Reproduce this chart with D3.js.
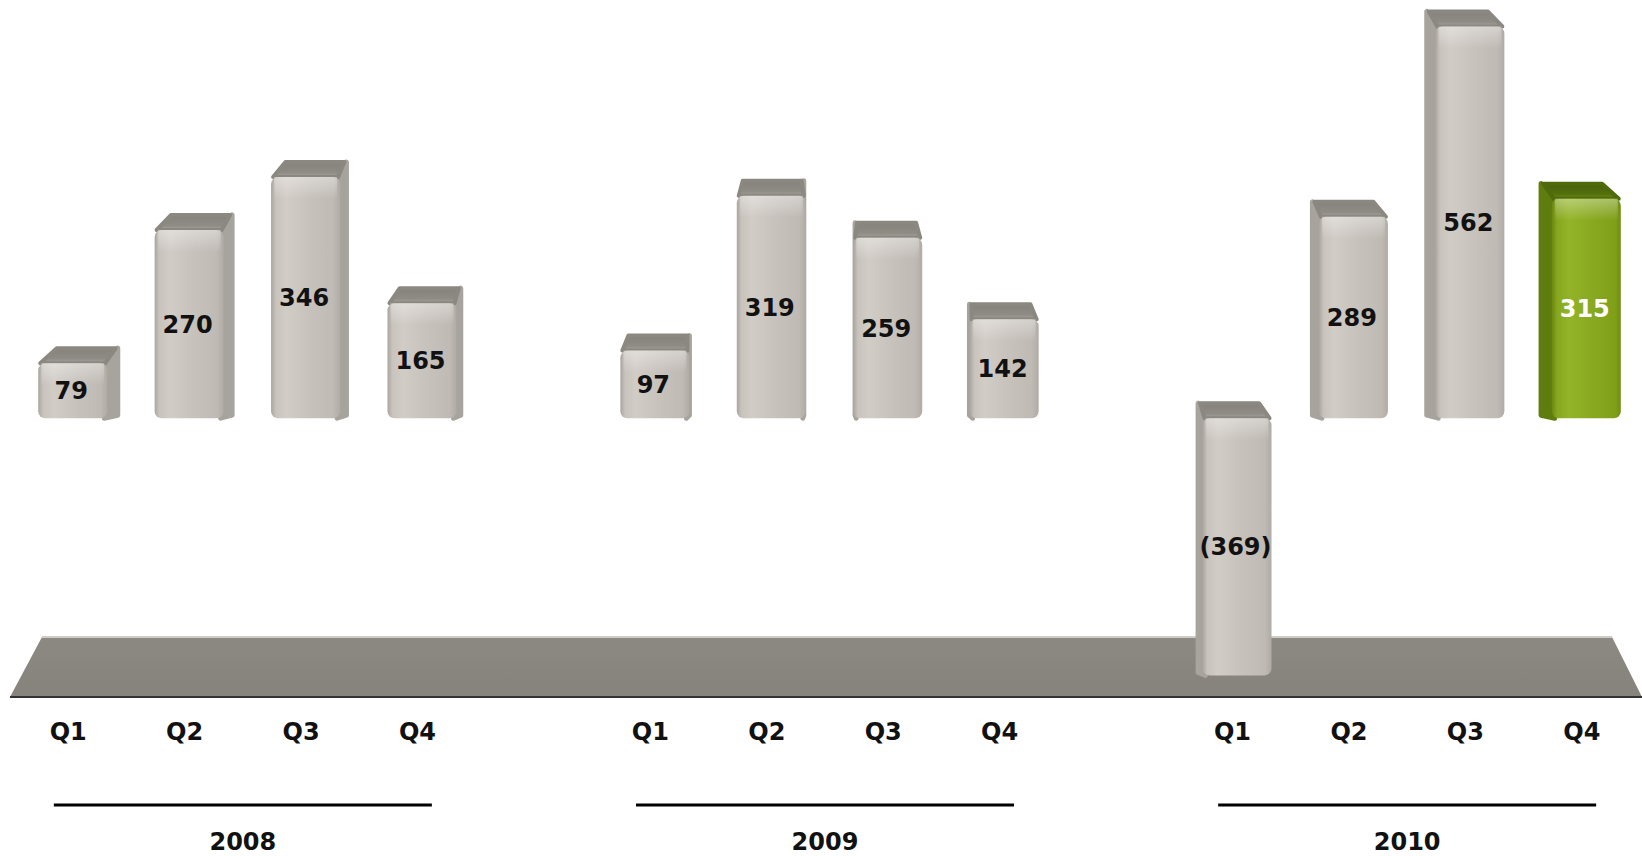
<!DOCTYPE html>
<meta charset="utf-8">
<head>
    <title>Quarterly results</title>
    <style>
        body { margin: 0; background: #fff; }
        svg { display: block; }
    </style>
</head>
<body>

    <!-- Load d3.js -->
    <script src="https://d3js.org/d3.v7.min.js"></script>

    <div id="my_dataviz"></div>

<script>

    // the data
    var years = ["2008", "2009", "2010"];
    var quarters = ["Q1", "Q2", "Q3", "Q4"];
    var values2008 = [79, 270, 346, 165];
    var values2009 = [97, 319, 259, 142];
    var values2010 = [-369, 289, 562, 315];
    var highlightYear = "2010", highlightQuarter = "Q4";

    var allValues = [values2008, values2009, values2010];
    var data = [];
    years.forEach(function(yr, i) {
        quarters.forEach(function(q, j) {
            data.push({ year: yr, quarter: q, value: allValues[i][j] });
        });
    });

    var width = 1642, height = 856;
    var depth = 17;           // height of the visible top face
    var font = "'DejaVu Sans', Verdana, sans-serif";

    var svg = d3.select("#my_dataviz")
        .append("svg")
        .attr("width", width)
        .attr("height", height);

    // scales: outer band = year, inner band = quarter
    var x0 = d3.scaleBand()
        .domain(years)
        .range([10, 1640])
        .paddingInner(0.2)
        .paddingOuter(0);

    var x1 = d3.scaleBand()
        .domain(quarters)
        .range([0, x0.bandwidth()]);

    var y = d3.scaleLinear()
        .domain([-400, 600])
        .range([697, 0]);

    // gradients
    var defs = svg.append("defs");
    function hGrad(id, stops) {
        var g = defs.append("linearGradient").attr("id", id)
            .attr("x1", "0%").attr("x2", "100%").attr("y1", "0%").attr("y2", "0%");
        stops.forEach(function(s) {
            g.append("stop").attr("offset", s[0]).attr("stop-color", s[1]);
        });
    }
    function vGrad(id, stops) {
        var g = defs.append("linearGradient").attr("id", id)
            .attr("x1", "0%").attr("x2", "0%").attr("y1", "0%").attr("y2", "100%");
        stops.forEach(function(s) {
            g.append("stop").attr("offset", s[0]).attr("stop-color", s[1]).attr("stop-opacity", s[2] == null ? 1 : s[2]);
        });
    }
    hGrad("frontGrey", [["0%", "#aaa59f"], ["7%", "#c8c3bd"], ["22%", "#d1ccc6"], ["55%", "#c7c2bc"], ["90%", "#bfbab4"], ["100%", "#b0aba5"]]);
    hGrad("frontGreen", [["0%", "#6a8810"], ["8%", "#87a81e"], ["25%", "#93b428"], ["60%", "#88a91f"], ["92%", "#7f9f19"], ["100%", "#6f8e12"]]);
    vGrad("topGrey", [["0%", "#85817b"], ["70%", "#8f8b85"], ["100%", "#a9a49f"]]);
    vGrad("topGreen", [["0%", "#46600a"], ["70%", "#54700c"], ["100%", "#6f8e14"]]);
    vGrad("shine", [["0%", "#ffffff", 0.35], ["100%", "#ffffff", 0]]);
    vGrad("floorGrad", [["0%", "#8c8882"], ["100%", "#86827c"]]);

    // floor (drawn behind the bars)
    var fl = x0.range()[0], fr = x0.range()[1] + 2;
    var fb = y(-400), ft = fb - 60;
    svg.append("path")
        .attr("d", "M" + (fl + 32) + "," + ft + "L" + (fr - 30) + "," + ft + "L" + fr + "," + fb + "L" + fl + "," + fb + "Z")
        .attr("fill", "url(#floorGrad)");
    svg.append("line")
        .attr("x1", fl + 32).attr("x2", fr - 30).attr("y1", ft).attr("y2", ft)
        .attr("stroke", "#cfccc8").attr("stroke-width", 2);
    svg.append("line")
        .attr("x1", fl).attr("x2", fr).attr("y1", fb).attr("y2", fb)
        .attr("stroke", "#333").attr("stroke-width", 2);

    // the bars
    var cxOf = function(d) { return x0(d.year) + x1(d.quarter) + x1.bandwidth() / 2; };
    var isHi = function(d) { return d.year == highlightYear && d.quarter == highlightQuarter; };

    var bars = svg.selectAll(".bar")
        .data(data)
        .enter()
        .append("g")
        .attr("class", "bar");

    bars.each(function(d) {
        var g = d3.select(this);
        var cx = cxOf(d);
        var fx0 = cx - 30, fx1 = cx + 39;
        var yt = y(Math.max(d.value, 0)), yb = y(Math.min(d.value, 0));
        var s = (width / 2 - cx) * 0.018;     // side face, toward the middle
        var hi = isHi(d);
        var sideCol = hi ? "#5f7d0f" : "#a7a39d";

        // side face
        var sx = s > 0 ? fx1 - 3 : fx0 + 3;
        g.append("path")
            .attr("d", "M" + sx + "," + yt + "L" + (sx + s) + "," + (yt - depth + 2) +
                       "L" + (sx + s) + "," + (yb - 3) + "L" + sx + "," + yb + "Z")
            .attr("fill", sideCol)
            .attr("stroke", sideCol).attr("stroke-width", 5).attr("stroke-linejoin", "round");

        // top face
        var topCol = hi ? "#4f6a0b" : "#8b8781";
        g.append("path")
            .attr("d", "M" + (fx0 + 2) + "," + yt + "L" + (fx1 - 2) + "," + yt +
                       "L" + (fx1 + s - 5) + "," + (yt - depth + 2) + "L" + (fx0 + s + 5) + "," + (yt - depth + 2) + "Z")
            .attr("fill", hi ? "url(#topGreen)" : "url(#topGrey)")
            .attr("stroke", topCol).attr("stroke-width", 4).attr("stroke-linejoin", "round");

        // front face
        g.append("rect")
            .attr("x", fx0).attr("y", yt)
            .attr("width", fx1 - fx0).attr("height", yb - yt)
            .attr("rx", 7)
            .attr("fill", hi ? "url(#frontGreen)" : "url(#frontGrey)");
        g.append("rect")
            .attr("x", fx0 + 3).attr("y", yt)
            .attr("width", fx1 - fx0 - 6).attr("height", Math.min(22, yb - yt))
            .attr("fill", "url(#shine)");

        // value label
        g.append("text")
            .attr("x", cx + 3)
            .attr("y", (yt + yb) / 2)
            .attr("dy", "0.36em")
            .attr("text-anchor", "middle")
            .attr("font-family", font)
            .attr("font-weight", "bold")
            .attr("font-size", 24)
            .attr("fill", hi ? "#ffffff" : "#111")
            .text(d.value < 0 ? "(" + Math.abs(d.value) + ")" : d.value);
    });

    // quarter labels: one axis per year
    years.forEach(function(yr) {
        var ax = svg.append("g")
            .attr("transform", "translate(" + x0(yr) + ",740)")
            .call(d3.axisBottom(x1).tickSize(0));
        ax.select(".domain").remove();
        ax.selectAll("text")
            .attr("y", 0).attr("dy", 0)
            .attr("fill", "#111")
            .attr("font-family", font)
            .attr("font-weight", "bold")
            .attr("font-size", 24);
    });

    // year brackets + labels
    var yearG = svg.selectAll(".year")
        .data(years)
        .enter()
        .append("g")
        .attr("class", "year");

    yearG.append("line")
        .attr("x1", function(d) { return x0(d) + x0.bandwidth() / 2 - 189; })
        .attr("x2", function(d) { return x0(d) + x0.bandwidth() / 2 + 189; })
        .attr("y1", 805).attr("y2", 805)
        .attr("stroke", "#000").attr("stroke-width", 3);

    yearG.append("text")
        .attr("x", function(d) { return x0(d) + x0.bandwidth() / 2; })
        .attr("y", 850)
        .attr("text-anchor", "middle")
        .attr("font-family", font)
        .attr("font-weight", "bold")
        .attr("font-size", 24)
        .attr("fill", "#111")
        .text(function(d) { return d; });

</script>

</body>
